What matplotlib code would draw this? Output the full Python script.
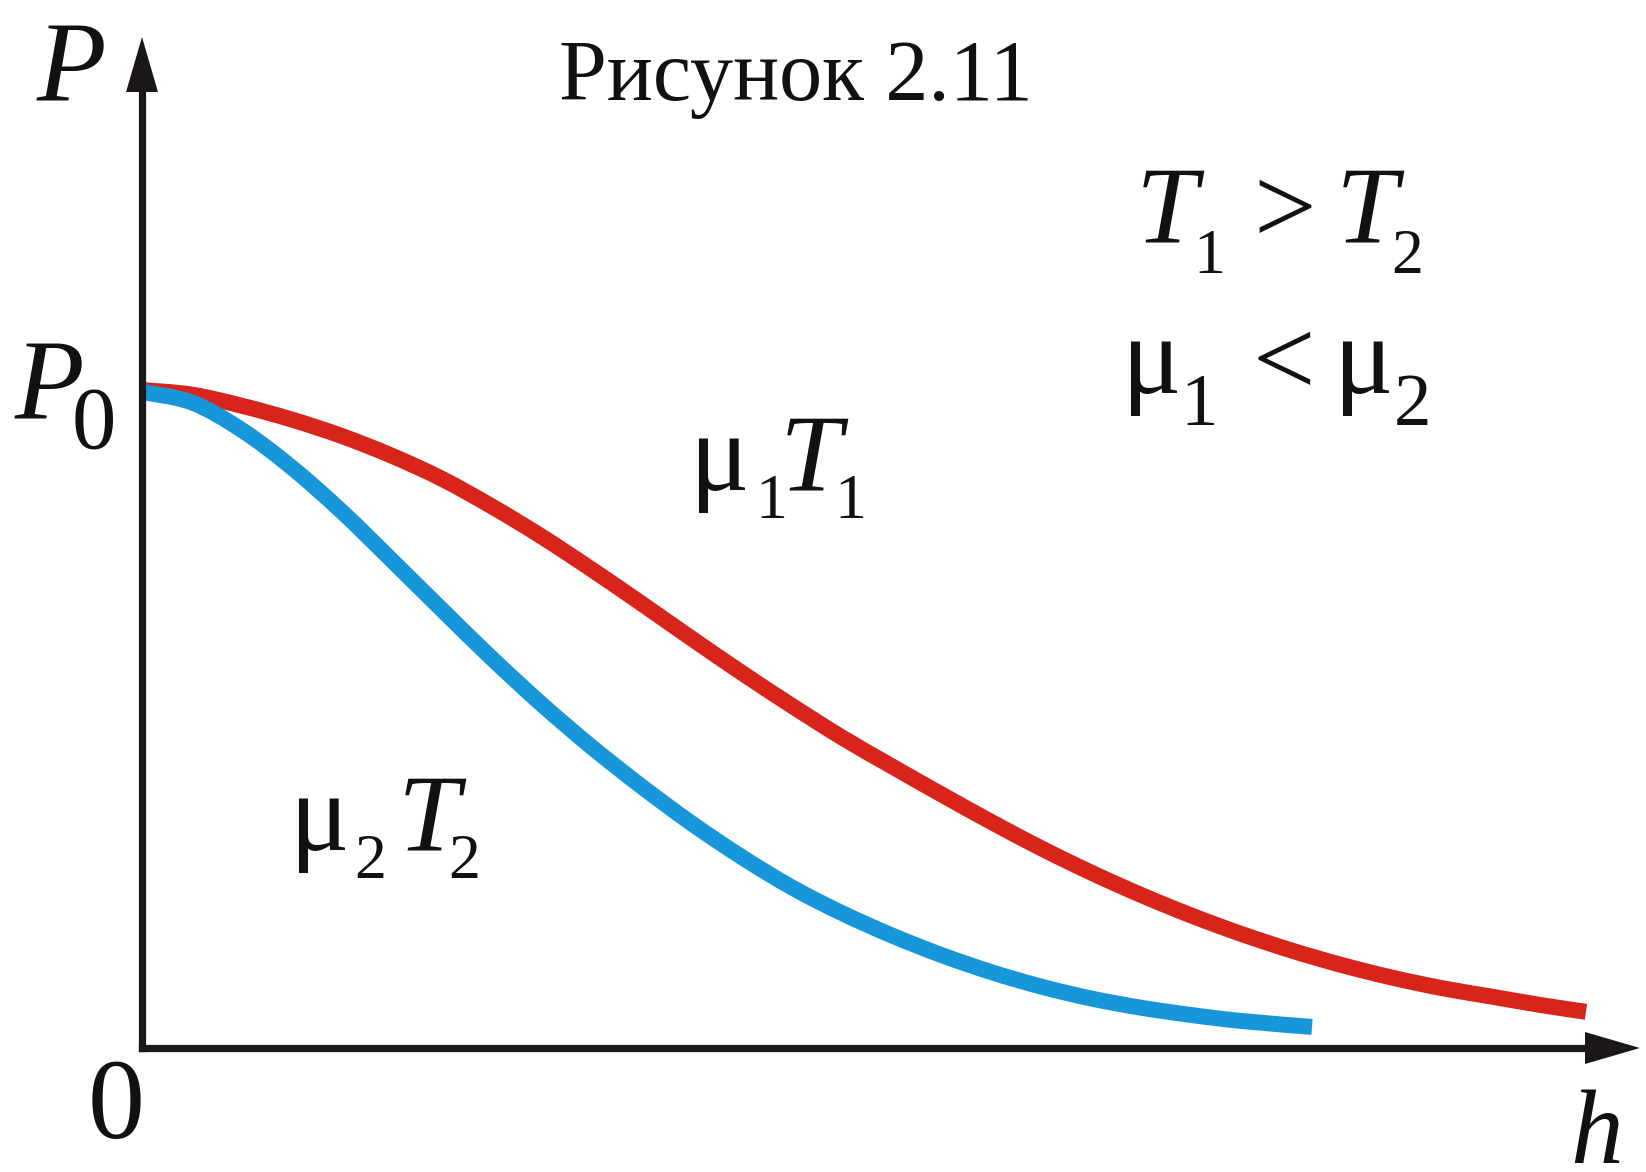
import matplotlib.pyplot as plt
from matplotlib.patches import FancyArrowPatch, PathPatch
from matplotlib.path import Path

# figure size in pixels
W, H = 1646, 1172

# curve data (h in arbitrary units, P in units of P0)
h_red = [0, 0.5, 1.0, 1.5, 2.0, 2.5, 3.0, 3.5, 4.0, 4.5, 5.0, 5.5, 6.0, 6.5, 7.0,
         7.5, 8.0, 8.5, 9.0, 9.5, 10.0, 10.5, 11.0, 11.5, 12.0, 12.5, 13.0, 13.5,
         14.0, 14.44]
p_red = [1.0, 0.993, 0.976, 0.955, 0.93, 0.90, 0.865, 0.823, 0.777, 0.727, 0.675,
         0.622, 0.57, 0.52, 0.472, 0.428, 0.385, 0.343, 0.303, 0.266, 0.232,
         0.201, 0.173, 0.148, 0.126, 0.107, 0.091, 0.078, 0.065, 0.055]

h_blue = [0, 0.5, 1.0, 1.5, 2.0, 2.5, 3.0, 3.5, 4.0, 4.5, 5.0, 5.5, 6.0, 6.5,
          7.0, 7.5, 8.0, 8.5, 9.0, 9.5, 10.0, 10.5, 11.0, 11.7]
p_blue = [0.997, 0.981, 0.939, 0.882, 0.815, 0.741, 0.666, 0.592, 0.522, 0.457,
          0.397, 0.341, 0.29, 0.244, 0.205, 0.171, 0.141, 0.115, 0.093, 0.075,
          0.061, 0.050, 0.041, 0.032]

RED = '#d9241c'
BLUE = '#1796d9'
AX = '#1a1716'
FONT = 'Liberation Serif'


def smooth(xs, ys):
    # cubic bezier through the read points (catmull-rom tangents)
    pts = list(zip(xs, ys))
    n = len(pts)
    verts = [pts[0]]
    codes = [Path.MOVETO]
    for i in range(n - 1):
        p0 = pts[i - 1] if i > 0 else pts[i]
        p1, p2 = pts[i], pts[i + 1]
        p3 = pts[i + 2] if i + 2 < n else pts[i + 1]
        c1 = (p1[0] + (p2[0] - p0[0]) / 6, p1[1] + (p2[1] - p0[1]) / 6)
        c2 = (p2[0] - (p3[0] - p1[0]) / 6, p2[1] - (p3[1] - p1[1]) / 6)
        verts += [c1, c2, p2]
        codes += [Path.CURVE4] * 3
    return Path(verts, codes)


fig = plt.figure(figsize=(W / 100, H / 100), dpi=100)
ax = fig.add_axes([142 / W, (H - 1048) / H, 1500 / W, 1013.3 / H])
ax.set_xlim(0, 15.0)
ax.set_ylim(0, 1.54)
ax.axis('off')

# curves
for hs, ps, col in [(h_red, p_red, RED), (h_blue, p_blue, BLUE)]:
    ax.add_patch(PathPatch(smooth(hs, ps), fill=False, edgecolor=col, lw=11.5,
                           capstyle='butt', joinstyle='round', clip_on=False))

# axes with arrow heads
ax.plot([0, 14.6], [0, 0], color=AX, lw=5.2, solid_capstyle='projecting', clip_on=False)
ax.plot([0, 0], [0, 1.47], color=AX, lw=5.2, solid_capstyle='projecting', clip_on=False)
head = '-|>,head_length=39.6,head_width=11.5'
ax.add_patch(FancyArrowPatch((13.5, 0), (14.98, 0), arrowstyle=head, mutation_scale=1,
                             lw=0, color=AX, shrinkA=0, shrinkB=0, clip_on=False))
ax.add_patch(FancyArrowPatch((0, 1.3), (0, 1.5365), arrowstyle=head, mutation_scale=1,
                             lw=0, color=AX, shrinkA=0, shrinkB=0, clip_on=False))


def put(x, y, s, size, style='normal', ha='left'):
    # x, y in pixels from top-left, y is the baseline
    fig.text(x / W, 1 - y / H, s, fontsize=size, style=style, ha=ha,
             va='baseline', family=FONT, color='#111111')


put(796, 100, 'Рисунок 2.11', 62, ha='center')

put(37, 100, 'P', 82, 'italic')
put(15, 418, 'P', 82, 'italic')
put(72, 448, '0', 64)
put(88, 1138, '0', 82)
put(1570, 1163, 'h', 76, 'italic')

# mu1 T1
put(690, 490, 'μ', 80)
put(755, 518, '1', 46)
put(780, 490, 'T', 80, 'italic')
put(834, 518, '1', 46)

# mu2 T2
put(290, 850, 'μ', 80)
put(354, 878, '2', 46)
put(398, 850, 'T', 80, 'italic')
put(448, 878, '2', 46)

# T1 > T2
put(1136, 243, 'T', 80, 'italic')
put(1193, 273, '1', 46)
put(1253, 243, '>', 80)
put(1336, 243, 'T', 80, 'italic')
put(1391, 273, '2', 46)

# mu1 < mu2
put(1122, 393, 'μ', 80)
put(1180, 425, '1', 54)
put(1253, 395, '<', 80)
put(1334, 393, 'μ', 80)
put(1394, 425, '2', 54)

fig.savefig('out.png', dpi=100, facecolor='white')
